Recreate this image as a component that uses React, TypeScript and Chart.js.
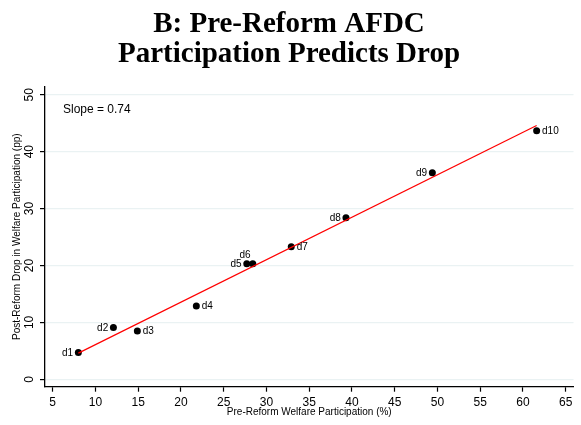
import React, { useEffect, useRef } from "react";
import { Chart, registerables } from "chart.js";

Chart.register(...registerables);

const titleLines = ["B: Pre-Reform AFDC", "Participation Predicts Drop"];
const xAxisTitle = "Pre-Reform Welfare Participation (%)";
const yAxisTitle = "Post-Reform Drop in Welfare Participation (pp)";
const slopeText = "Slope = 0.74";

const decileLabels = ["d1", "d2", "d3", "d4", "d5", "d6", "d7", "d8", "d9", "d10"];
const preReformParticipation = [8.0, 12.1, 14.9, 21.8, 27.7, 28.4, 32.9, 39.3, 49.4, 61.6];
const postReformDrop = [4.7, 9.1, 8.5, 12.9, 20.3, 20.3, 23.3, 28.4, 36.3, 43.7];
// Stata-style clock positions for the marker labels
const labelClock = [9, 9, 3, 3, 9, 11, 3, 9, 9, 3];

const fitX = [8.0, 61.6];
const fitY = [4.6, 44.6];

const xTicks = [5, 10, 15, 20, 25, 30, 35, 40, 45, 50, 55, 60, 65];
const yTicks = [0, 10, 20, 30, 40, 50];

const slopePos = { x: 6.2, y: 47.3 };

const SANS = '"Liberation Sans", Arial, sans-serif';
const SERIF = '"Liberation Serif", "Times New Roman", serif';

export default function App() {
  const ref = useRef<HTMLCanvasElement | null>(null);

  useEffect(() => {
    const canvas = ref.current;
    if (!canvas) return;

    const drawPlugin = {
      id: "custom",
      beforeDraw(chart: any) {
        const ctx = chart.ctx;
        ctx.save();
        ctx.fillStyle = "#ffffff";
        ctx.fillRect(0, 0, chart.width, chart.height);
        ctx.restore();
      },
      afterDraw(chart: any) {
        const ctx = chart.ctx;
        const xs = chart.scales.x;
        const ys = chart.scales.y;
        ctx.save();
        // Title
        ctx.fillStyle = "#000";
        ctx.font = `bold 29px ${SERIF}`;
        ctx.textAlign = "center";
        ctx.textBaseline = "alphabetic";
        ctx.fillText(titleLines[0], 289, 31.6);
        ctx.fillText(titleLines[1], 289, 61.5);

        // Rotated y tick labels
        ctx.font = `12px ${SANS}`;
        ys.ticks.forEach((t: any) => {
          const py = ys.getPixelForValue(t.value);
          ctx.save();
          ctx.translate(33.2, py);
          ctx.rotate(-Math.PI / 2);
          ctx.textAlign = "center";
          ctx.textBaseline = "alphabetic";
          ctx.fillText(String(t.value), 0, 0);
          ctx.restore();
        });

        // Slope annotation
        ctx.font = `12px ${SANS}`;
        ctx.textAlign = "left";
        ctx.textBaseline = "middle";
        ctx.fillText(slopeText, xs.getPixelForValue(slopePos.x), ys.getPixelForValue(slopePos.y));

        // Marker labels
        ctx.font = `10px ${SANS}`;
        const meta = chart.getDatasetMeta(1);
        meta.data.forEach((pt: any, i: number) => {
          const c = labelClock[i];
          const lbl = decileLabels[i];
          if (c === 3) {
            ctx.textAlign = "left";
            ctx.textBaseline = "middle";
            ctx.fillText(lbl, pt.x + 5.4, pt.y + 0.5);
          } else if (c === 9) {
            ctx.textAlign = "right";
            ctx.textBaseline = "middle";
            ctx.fillText(lbl, pt.x - 5.2, pt.y + 0.5);
          } else if (c === 11) {
            ctx.textAlign = "right";
            ctx.textBaseline = "middle";
            ctx.fillText(lbl, pt.x - 2.2, pt.y - 8.5);
          }
        });
        ctx.restore();
      },
    };

    const chart = new Chart(canvas, {
      type: "scatter",
      data: {
        datasets: [
          {
            type: "line",
            data: fitX.map((x, i) => ({ x, y: fitY[i] })),
            borderColor: "#ff0000",
            borderWidth: 1.2,
            pointRadius: 0,
            fill: false,
            tension: 0,
          } as any,
          {
            type: "scatter",
            data: preReformParticipation.map((x, i) => ({ x, y: postReformDrop[i] })),
            backgroundColor: "#000000",
            borderColor: "#000000",
            borderWidth: 0,
            pointRadius: 3.5,
          },
        ],
      },
      plugins: [drawPlugin],
      options: {
        responsive: false,
        animation: false,
        events: [],
        layout: { padding: { top: 86.7, left: 0, right: 7.5, bottom: 0 } },
        plugins: {
          legend: { display: false },
          tooltip: { enabled: false },
          title: { display: false },
        },
        scales: {
          x: {
            type: "linear",
            min: 4.1,
            max: 65.91,
            afterBuildTicks: (s: any) => {
              s.ticks = xTicks.map((v) => ({ value: v }));
            },
            afterFit: (s: any) => {
              s.height = 38.3;
            },
            ticks: {
              color: "#000",
              font: { family: SANS, size: 12 },
              padding: 3.5,
              maxRotation: 0,
              minRotation: 0,
              callback: (v: any) => String(v),
            },
            grid: {
              drawOnChartArea: false,
              drawTicks: true,
              tickLength: 5,
              tickColor: "#000",
              tickWidth: 1.2,
            },
            border: { display: true, color: "#000", width: 1.3 },
            title: {
              display: true,
              text: xAxisTitle,
              color: "#000",
              font: { family: SANS, size: 10 },
              padding: { top: 0, bottom: 6.5 },
            },
          },
          y: {
            type: "linear",
            min: -1.3,
            max: 51.42,
            afterBuildTicks: (s: any) => {
              s.ticks = yTicks.map((v) => ({ value: v }));
            },
            afterFit: (s: any) => {
              s.width = 45;
            },
            ticks: { display: false },
            grid: {
              color: "#eaf2f3",
              lineWidth: 1.2,
              drawTicks: true,
              tickLength: 5,
              tickColor: "#000",
              tickWidth: 1.2,
            },
            border: { display: true, color: "#000", width: 1.3 },
            title: {
              display: true,
              text: yAxisTitle,
              color: "#000",
              font: { family: SANS, size: 10 },
              padding: { top: 11.6, bottom: 0 },
            },
          },
        },
      },
    });

    return () => chart.destroy();
  }, []);

  return (
    <div style={{ position: "absolute", left: 0, top: 0, width: 581, height: 425, background: "#fff" }}>
      <canvas ref={ref} width={581} height={425} style={{ display: "block", width: 581, height: 425 }} />
    </div>
  );
}
